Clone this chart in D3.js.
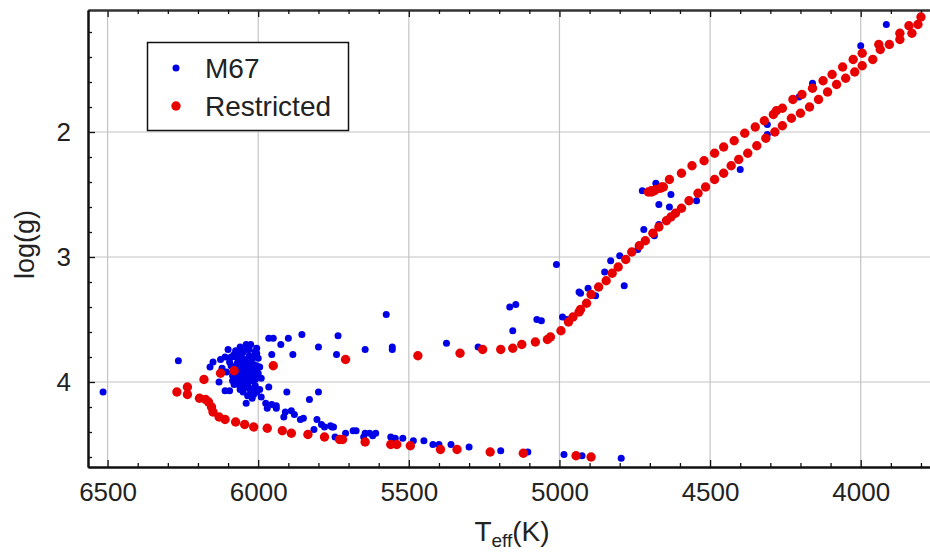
<!DOCTYPE html>
<html>
<head>
<meta charset="utf-8">
<script src="https://cdn.jsdelivr.net/npm/d3@7"></script>
<style>
  body { margin: 0; background: #fff; }
  text { font-family: "Liberation Sans", Arial, sans-serif; fill: #222; }
</style>
</head>
<body>
<div id="chart"></div>
<script>
// M67 cluster stars [Teff, log g]
const m67 = [
  [6515,4.08],[6265,3.83],[6160,3.88],[6130,4.00],[6125,3.82],[6110,4.07],[6095,4.07],[6100,3.74],
  [6080,3.78],[6065,3.76],[6055,3.80],[6040,3.70],[6025,3.70],[6010,3.76],[6005,3.73],[6070,3.85],
  [6050,3.88],[6035,3.85],[6060,3.93],[6045,3.94],[6025,3.96],[6070,3.98],[6055,4.00],[6040,4.01],
  [6020,3.90],[6000,3.93],[6050,4.08],[6025,4.08],[6015,4.10],[6040,4.17],[5995,4.06],[5990,4.12],
  [5965,4.04],[5975,4.17],[5970,4.21],[5955,4.18],[5940,4.19],[5940,4.21],[5905,4.08],[5910,4.24],
  [5915,4.28],[5890,4.23],[5880,4.26],[5860,4.30],[5850,4.29],[5830,4.14],[5800,4.08],[5815,4.38],
  [5805,4.30],[5790,4.34],[5780,4.36],[5760,4.35],[5750,4.36],[5745,4.44],[5965,3.65],[5950,3.65],
  [5925,3.70],[5900,3.65],[5855,3.62],[5955,3.78],[5885,3.78],[5800,3.72],[5735,3.63],[5740,3.78],
  [6005,3.77],[6045,3.82],[6020,3.81],[6065,3.90],[6015,3.86],[6035,4.02],[6010,3.98],[6085,3.95],
  [6105,3.92],[6090,3.87],[6000,3.81],[6045,3.97],[6120,3.89],[6150,3.84],[6080,4.02],[6015,4.05],
  [6060,3.72],[6030,3.74],[6075,3.80],[6030,3.79],[6015,3.80],[6060,3.84],[6025,3.84],[6045,3.87],
  [6030,3.88],[6010,3.88],[6075,3.89],[6055,3.90],[6035,3.91],[6015,3.92],[6070,3.94],[6030,3.94],
  [6010,3.95],[6060,3.96],[6040,3.97],[6020,3.99],[6085,3.99],[6065,4.02],[6045,4.04],[6030,4.05],
  [6010,4.03],[6005,3.87],[6095,3.84],[6110,3.80],[6090,3.80],[6075,3.75],[6050,3.76],[6040,3.74],
  [5990,3.97],[5995,3.88],[6060,4.06],[6035,4.11],[6005,4.08],[6020,4.13],
  [5645,3.74],[5575,3.46],[5555,3.72],[5555,3.74],[5375,3.69],[5270,3.72],[5165,3.40],[5145,3.38],
  [5155,3.59],[5075,3.50],[5060,3.51],[4990,3.48],[5010,3.06],
  [5755,4.36],[5710,4.41],[5685,4.39],[5675,4.39],[5650,4.44],[5645,4.41],[5630,4.41],[5610,4.41],
  [5620,4.43],[5560,4.44],[5545,4.45],[5520,4.45],[5485,4.47],[5450,4.47],[5420,4.50],[5400,4.50],
  [5360,4.50],[5300,4.52],[5195,4.55],[5105,4.56],[4985,4.58],[4925,4.59],[4795,4.61],
  [4975,3.50],[4935,3.28],[4930,3.29],[4905,3.25],[4880,3.31],[4850,3.12],[4830,3.03],[4800,2.99],
  [4785,3.23],[4740,2.94],[4720,2.78],[4685,2.83],[4670,2.74],[4725,2.47],[4680,2.41],[4630,2.50],
  [4670,2.58],[4635,2.60],[4545,2.55],[4400,2.30],[4310,1.94],[4310,2.02],[4205,1.72],[4160,1.61],
  [4000,1.31],[3915,1.14]
];

// restricted model points [Teff, log g]
const restricted = [
  [6270,4.08],[6235,4.04],[6235,4.10],[6180,3.98],[6125,3.93],[6080,3.91],[5950,3.87],[5710,3.82],
  [6195,4.13],[6175,4.14],[6165,4.16],[6155,4.20],[6150,4.24],[6130,4.28],[6110,4.30],[6075,4.32],
  [6045,4.34],[6015,4.36],[5970,4.37],[5920,4.39],[5890,4.41],[5835,4.42],[5780,4.44],[5730,4.46],
  [5720,4.46],[5645,4.48],[5560,4.50],[5540,4.50],[5495,4.51],[5395,4.54],[5340,4.54],[5230,4.56],
  [5120,4.57],[4945,4.59],[4895,4.60],
  [5470,3.79],[5330,3.77],[5255,3.74],[5195,3.74],[5155,3.73],[5125,3.70],[5080,3.68],[5040,3.66],
  [5030,3.64],[4995,3.59],[4970,3.52],[4955,3.48],[4935,3.44],[4930,3.42],[4910,3.37],[4895,3.30],
  [4870,3.24],[4845,3.19],[4825,3.13],[4805,3.08],[4780,3.02],[4760,2.96],[4735,2.91],[4715,2.87],
  [4690,2.81],[4670,2.76],[4645,2.71],[4630,2.68],[4615,2.65],[4595,2.61],[4570,2.55],[4540,2.49],
  [4515,2.44],[4485,2.38],[4455,2.33],[4430,2.27],[4405,2.22],[4375,2.17],[4345,2.11],[4315,2.05],
  [4285,2.00],[4260,1.95],[4230,1.89],[4200,1.85],[4170,1.80],[4140,1.74],[4110,1.68],[4080,1.62],
  [4050,1.57],[4020,1.52],[3995,1.47],[3960,1.42],[3935,1.34],[3905,1.30],[3870,1.26],[3830,1.21],
  [3810,1.14],
  [4705,2.48],[4695,2.47],[4680,2.46],[4665,2.45],[4655,2.44],[4695,2.48],[4685,2.47],[4660,2.44],
  [4635,2.38],[4595,2.33],[4560,2.27],[4520,2.23],[4485,2.17],[4455,2.12],[4420,2.07],[4385,2.01],
  [4350,1.96],[4320,1.91],[4290,1.86],[4280,1.83],[4260,1.81],[4225,1.74],[4195,1.70],[4160,1.65],
  [4125,1.59],[4095,1.54],[4060,1.48],[4025,1.42],[3995,1.37],[3940,1.30],[3870,1.21],[3840,1.15],
  [3800,1.08]
];

const xTicks = [6500, 6000, 5500, 5000, 4500, 4000];
const yTicks = [2, 3, 4];
const seriesNames = ["M67", "Restricted"];

/*
DIMENSIONS + CANVAS
*/
const width = 930;
const height = 552;
const margin = {top: 10, left: 88, right: 0, bottom: 85};
const blue = "#0000e6";
const red = "#e80000";

const svg = d3.select("#chart")
    .append("svg")
    .attr("width", width)
    .attr("height", height);

/*
SCALES
*/
const xScale = d3.scaleLinear()
    .domain([6565, 3770])
    .range([margin.left, width - margin.right]);

const yScale = d3.scaleLinear()
    .domain([1.024, 4.68])
    .range([margin.top, height - margin.bottom]);

const x0 = margin.left, x1 = width - margin.right;
const y0 = margin.top, y1 = height - margin.bottom;

/*
GRID
*/
svg.append("g").selectAll("line")
    .data(xTicks)
    .enter()
    .append("line")
    .attr("x1", d => xScale(d)).attr("x2", d => xScale(d))
    .attr("y1", y0).attr("y2", y1)
    .attr("stroke", "#c4c4c4").attr("stroke-width", 1.2);

svg.append("g").selectAll("line")
    .data(yTicks)
    .enter()
    .append("line")
    .attr("x1", x0).attr("x2", x1)
    .attr("y1", d => yScale(d)).attr("y2", d => yScale(d))
    .attr("stroke", "#c4c4c4").attr("stroke-width", 1.2);

/*
AXES
*/
const xMinor = d3.range(3800, 6600, 100).filter(d => !xTicks.includes(d));
const yMinor = d3.range(1.2, 4.7, 0.2).map(d => +d.toFixed(1)).filter(d => !yTicks.includes(d));

function styleAxis(g){
    g.select(".domain").attr("stroke", "#111").attr("stroke-width", 2);
    g.selectAll(".tick line").attr("stroke", "#111").attr("stroke-width", 1.3);
    g.selectAll("text").style("font-size", "26px").attr("fill", "#222")
        .style("font-family", "'Liberation Sans', Arial, sans-serif");
}

svg.append("g")
    .attr("transform", `translate(0,${y1})`)
    .call(d3.axisBottom(xScale).tickValues(xTicks).tickFormat(d3.format("d"))
        .tickSize(-7).tickSizeOuter(0).tickPadding(16))
    .call(styleAxis);

svg.append("g")
    .attr("transform", `translate(0,${y1})`)
    .call(d3.axisBottom(xScale).tickValues(xMinor).tickSize(-4).tickSizeOuter(0).tickFormat(""))
    .call(styleAxis);

svg.append("g")
    .attr("transform", `translate(0,${y0})`)
    .call(d3.axisTop(xScale).tickValues(xTicks).tickSize(-7).tickSizeOuter(0).tickFormat(""))
    .call(styleAxis)
    .call(g => g.select(".domain").attr("stroke", "#333"));

svg.append("g")
    .attr("transform", `translate(0,${y0})`)
    .call(d3.axisTop(xScale).tickValues(xMinor).tickSize(-4).tickSizeOuter(0).tickFormat(""))
    .call(styleAxis)
    .call(g => g.select(".domain").attr("stroke", "#333"));

svg.append("g")
    .attr("transform", `translate(${x0},0)`)
    .call(d3.axisLeft(yScale).tickValues(yTicks).tickFormat(d3.format("d"))
        .tickSize(-7).tickSizeOuter(0).tickPadding(17))
    .call(styleAxis);

svg.append("g")
    .attr("transform", `translate(${x0},0)`)
    .call(d3.axisLeft(yScale).tickValues(yMinor).tickSize(-4).tickSizeOuter(0).tickFormat(""))
    .call(styleAxis);

/*
POINTS
*/
svg.append("g").selectAll("circle")
    .data(m67)
    .enter()
    .append("circle")
    .attr("cx", d => xScale(d[0]))
    .attr("cy", d => yScale(d[1]))
    .attr("r", 3.5)
    .attr("fill", blue);

svg.append("g").selectAll("circle")
    .data(restricted)
    .enter()
    .append("circle")
    .attr("cx", d => xScale(d[0]))
    .attr("cy", d => yScale(d[1]))
    .attr("r", 4.7)
    .attr("fill", red);

/*
LABELS
*/
svg.append("text")
    .attr("transform", `translate(34,${(y0 + y1) / 2 + 6}) rotate(-90)`)
    .attr("text-anchor", "middle")
    .style("font-size", "27px")
    .text("log(g)");

const xLabel = svg.append("text")
    .attr("x", 512)
    .attr("y", 541)
    .attr("text-anchor", "middle")
    .style("font-size", "28px");
xLabel.append("tspan").text("T");
xLabel.append("tspan").attr("dy", 6).style("font-size", "19px").text("eff");
xLabel.append("tspan").attr("dy", -6).text("(K)");

/*
LEGEND
*/
svg.append("rect")
    .attr("x", 147.5).attr("y", 42.5)
    .attr("width", 201).attr("height", 88)
    .attr("fill", "#fff")
    .attr("stroke", "#111").attr("stroke-width", 1.5);

const legColors = [blue, red];
const legR = [3.5, 4.7];
seriesNames.forEach(function(name, i){
    svg.append("circle")
        .attr("cx", 176)
        .attr("cy", 68 + i * 38)
        .attr("r", legR[i])
        .attr("fill", legColors[i]);
    svg.append("text")
        .attr("x", 205)
        .attr("y", 78 + i * 38)
        .style("font-size", "28px")
        .text(name);
});
</script>
</body>
</html>
